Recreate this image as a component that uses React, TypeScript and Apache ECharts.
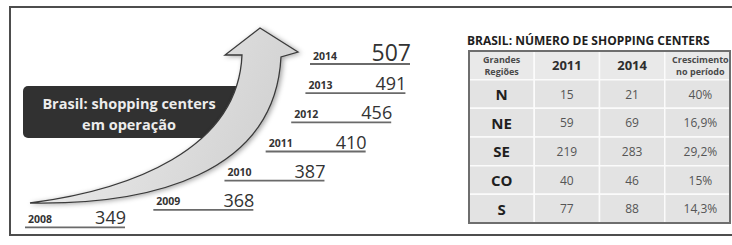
import React, { useEffect, useRef } from 'react';
import * as echarts from 'echarts';

// ---------- data ----------
const years = ['2008', '2009', '2010', '2011', '2012', '2013', '2014'];
const shoppingCenters = [349, 368, 387, 410, 456, 491, 507];
const infoTitleLines = ['Brasil: shopping centers', 'em operação'];

const tableTitle = 'BRASIL: NÚMERO DE SHOPPING CENTERS';
const tableColumns = ['Grandes\nRegiões', '2011', '2014', 'Crescimento\nno período'];
const regions = ['N', 'NE', 'SE', 'CO', 'S'];
const centers2011 = [15, 59, 219, 40, 77];
const centers2014 = [21, 69, 283, 46, 88];
const growthInPeriod = ['40%', '16,9%', '29,2%', '15%', '14,3%'];

// ---------- layout ----------
const FONT = '"Open Sans", "Noto Sans", sans-serif';
const ARROW_D =
  'M30,203 C130,190 238,150 242,55 L225,55 L260,28 L298,52 L281,57 C275,175 150,205 30,203 Z';
echarts.graphic.registerShape('growthArrow', echarts.graphic.extendPath(ARROW_D, {}));

const STAIR_GRID = { left: 25, top: 64, width: 285, height: 175 };
const FIRST_STEP_POS = 0.4; // first stair sits closer to the second one
const LINE_LEN = 100;
const TABLE = { left: 469, top: 51, width: 261, height: 172 };

function cellText(r: number, c: number): string {
  if (r === 0) return tableColumns[c];
  const i = r - 1;
  if (c === 0) return regions[i];
  if (c === 1) return String(centers2011[i]);
  if (c === 2) return String(centers2014[i]);
  return growthInPeriod[i];
}

function cellFont(r: number, c: number) {
  if (r === 0) {
    if (c === 0 || c === 3) return { fontSize: 9, fontWeight: 'bold', fill: '#4a4a4a', lineHeight: 12 };
    return { fontSize: 13, fontWeight: 'bold', fill: '#2e2e2e', lineHeight: 15 };
  }
  if (c === 0) return { fontSize: 15, fontWeight: 'bold', fill: '#1f1f1f', lineHeight: 17 };
  return { fontSize: 12, fontWeight: 'normal', fill: '#555', lineHeight: 14 };
}

export default function App() {
  const ref = useRef<HTMLDivElement>(null);

  useEffect(() => {
    if (!ref.current) return;
    const chart = echarts.init(ref.current, undefined, { renderer: 'svg' });
    const n = years.length;

    const tableData: number[][] = [];
    for (let r = 0; r <= regions.length; r++) {
      for (let c = 0; c < tableColumns.length; c++) tableData.push([c, r]);
    }

    chart.setOption({
      animation: false,
      backgroundColor: '#ffffff',
      grid: [
        { ...STAIR_GRID, show: false },
        { ...TABLE, show: false },
      ],
      xAxis: [
        { gridIndex: 0, type: 'value', min: 0, max: 1, show: false },
        { gridIndex: 1, type: 'category', data: tableColumns, show: false },
      ],
      yAxis: [
        { gridIndex: 0, type: 'value', min: 0, max: n - 1, show: false },
        { gridIndex: 1, type: 'category', data: ['header', ...regions], inverse: true, show: false },
      ],
      graphic: [
        {
          type: 'rect',
          shape: { x: 10, y: 7, width: 740, height: 228 },
          style: { fill: 'none', stroke: '#4d4d4d', lineWidth: 2 },
          silent: true,
        },
        {
          type: 'rect',
          shape: { x: 23, y: 86, width: 222, height: 52, r: 5 },
          style: { fill: '#313131' },
          silent: true,
        },
        {
          type: 'text',
          style: {
            text: infoTitleLines.join('\n'),
            x: 129,
            y: 114,
            align: 'center',
            verticalAlign: 'middle',
            textAlign: 'center',
            textVerticalAlign: 'middle',
            fontFamily: FONT,
            fontWeight: 'bold',
            fontSize: 14.5,
            lineHeight: 21,
            fill: '#ececec',
          },
          silent: true,
        },
        {
          type: 'growthArrow',
          x: 0,
          y: 0,
          style: {
            fill: {
              type: 'linear',
              x: 0,
              y: 0,
              x2: 1,
              y2: 0.3,
              colorStops: [
                { offset: 0, color: '#f2f2f2' },
                { offset: 1, color: '#d2d2d2' },
              ],
            },
            stroke: '#3a3a3a',
            lineWidth: 1.3,
            shadowBlur: 5,
            shadowColor: 'rgba(0,0,0,0.35)',
            shadowOffsetX: 2,
            shadowOffsetY: 1,
          },
          silent: true,
        },
        {
          type: 'text',
          style: {
            text: tableTitle,
            x: 467,
            y: 40,
            align: 'left',
            verticalAlign: 'middle',
            textAlign: 'left',
            textVerticalAlign: 'middle',
            fontFamily: FONT,
            fontWeight: 'bold',
            fontSize: 12,
            fill: '#1e1e1e',
          },
          silent: true,
        },
        {
          type: 'rect',
          z: 10,
          shape: { x: TABLE.left, y: TABLE.top, width: TABLE.width, height: TABLE.height },
          style: { fill: 'none', stroke: '#6e6e6e', lineWidth: 2 },
          silent: true,
        },
      ],
      series: [
        {
          type: 'custom',
          coordinateSystem: 'cartesian2d',
          xAxisIndex: 0,
          yAxisIndex: 0,
          silent: true,
          data: shoppingCenters.map((v, i) => [i, v]),
          encode: { y: 0 },
          renderItem: (params: any, api: any) => {
            const i = params.dataIndex;
            const pos = i === 0 ? FIRST_STEP_POS : i;
            const y = api.coord([0, pos])[1];
            const yTop = api.coord([0, n - 1])[1];
            const yBot = api.coord([0, FIRST_STEP_POS])[1];
            const frac = (y - yTop) / (yBot - yTop);
            const left = api.coord([Math.sqrt(Math.max(0, 1 - frac * frac)), 0])[0];
            const right = left + LINE_LEN;
            const isLast = i === n - 1;
            return {
              type: 'group',
              children: [
                {
                  type: 'line',
                  shape: { x1: left, y1: y, x2: right, y2: y },
                  style: { stroke: '#6a6a6a', lineWidth: 1.8 },
                },
                {
                  type: 'text',
                  style: {
                    text: years[i],
                    x: left + 3,
                    y: y - 3,
                    align: 'left',
                    verticalAlign: 'bottom',
                    textAlign: 'left',
                    textVerticalAlign: 'bottom',
                    fontFamily: FONT,
                    fontWeight: 'bold',
                    fontSize: 10.5,
                    fill: '#333',
                  },
                },
                {
                  type: 'text',
                  style: {
                    text: String(api.value(1)),
                    x: right + 1,
                    y: y - 1,
                    align: 'right',
                    verticalAlign: 'bottom',
                    textAlign: 'right',
                    textVerticalAlign: 'bottom',
                    fontFamily: FONT,
                    fontSize: isLast ? 23 : 18,
                    fill: '#333',
                  },
                },
              ],
            };
          },
        },
        {
          type: 'custom',
          coordinateSystem: 'cartesian2d',
          xAxisIndex: 1,
          yAxisIndex: 1,
          silent: true,
          data: tableData,
          renderItem: (params: any, api: any) => {
            const c = api.value(0);
            const r = api.value(1);
            const [cx, cy] = api.coord([c, r]);
            const [w, h] = api.size([1, 1]);
            const f = cellFont(r, c);
            return {
              type: 'group',
              children: [
                {
                  type: 'rect',
                  shape: { x: cx - w / 2, y: cy - h / 2, width: w, height: h },
                  style: { fill: r === 0 ? '#e9e9e9' : '#e3e3e3', stroke: '#fbfbfb', lineWidth: 1.5 },
                },
                {
                  type: 'text',
                  style: {
                    text: cellText(r, c),
                    x: c === 3 ? cx + 3 : cx,
                    y: cy,
                    align: 'center',
                    verticalAlign: 'middle',
                    textAlign: 'center',
                    textVerticalAlign: 'middle',
                    fontFamily: FONT,
                    ...f,
                  },
                },
              ],
            };
          },
        },
      ],
    });

    return () => chart.dispose();
  }, []);

  return (
    <div
      ref={ref}
      style={{ position: 'fixed', left: 0, top: 0, width: 732, height: 245, background: '#fff' }}
    />
  );
}
